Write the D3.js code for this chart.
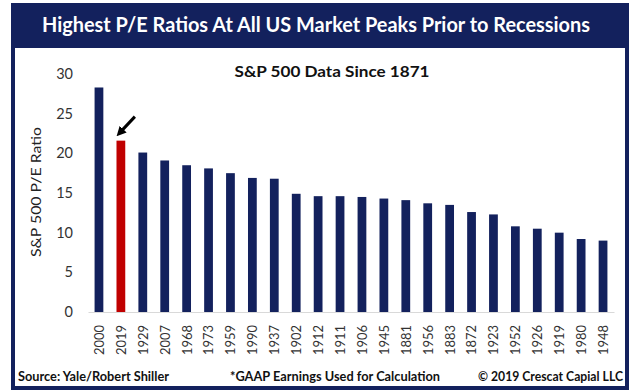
<!DOCTYPE html>
<html><head><meta charset="utf-8">
<script src="https://cdn.jsdelivr.net/npm/d3@7"></script>
<style>body{margin:0;background:#fff}svg{display:block}</style>
</head><body>
<script>
const years = ["2000","2019","1929","2007","1968","1973","1959","1990","1937","1902","1912","1911","1906","1945","1881","1956","1883","1872","1923","1952","1926","1919","1980","1948"];
const peRatios = [28.3,21.6,20.1,19.1,18.5,18.1,17.5,16.9,16.8,14.9,14.6,14.6,14.5,14.3,14.1,13.7,13.5,12.6,12.3,10.8,10.5,10.0,9.2,9.0];
const highlightYear = "2019";
const yTicks = [0,5,10,15,20,25,30];

const W=632,H=392, navy="#13215d", red="#c00000";
const svg=d3.select("body").append("svg").attr("width",W).attr("height",H);
const font="Lato, 'Open Sans', sans-serif";

svg.append("rect").attr("x",11).attr("y",3).attr("width",618).attr("height",387).attr("fill",navy);
svg.append("rect").attr("x",15).attr("y",48).attr("width",610).attr("height",338).attr("fill","#fff");

svg.append("text").attr("x",316).attr("y",32).attr("text-anchor","middle")
  .attr("font-family",font).attr("font-weight","bold").attr("font-size",20).attr("fill","#fff")
  .attr("textLength",548).attr("lengthAdjust","spacingAndGlyphs")
  .text("Highest P/E Ratios At All US Market Peaks Prior to Recessions");

svg.append("text").attr("x",332).attr("y",77).attr("text-anchor","middle")
  .attr("font-family",font).attr("font-weight","bold").attr("font-size",15).attr("fill","#111")
  .attr("textLength",195).attr("lengthAdjust","spacingAndGlyphs")
  .text("S&P 500 Data Since 1871");

const x=d3.scaleBand().domain(years).range([88,614]).paddingInner(0.6).paddingOuter(0.3);
const y=d3.scaleLinear().domain([0,30]).range([312,74]);

// y axis
const ya=svg.append("g").attr("transform","translate(80,0)")
  .call(d3.axisLeft(y).tickValues(yTicks).tickSize(0).tickPadding(7));
ya.select(".domain").remove();
ya.selectAll("text").attr("font-family",font).attr("font-size",14.5).attr("fill","#333");

svg.selectAll("rect.bar").data(years).join("rect").attr("class","bar")
  .attr("x",d=>x(d)).attr("width",x.bandwidth())
  .attr("y",(d,i)=>y(peRatios[i])).attr("height",(d,i)=>y(0)-y(peRatios[i]))
  .attr("fill",d=>d===highlightYear?red:navy);

// x axis
const xa=svg.append("g").attr("transform","translate(0,312)")
  .call(d3.axisBottom(x).tickSize(0).tickPadding(0));
xa.select(".domain").attr("stroke","#d9d9d9").attr("stroke-width",1.2);
xa.selectAll("text").attr("font-family",font).attr("font-size",14).attr("fill","#333")
  .attr("transform","rotate(-90)").attr("text-anchor","end").attr("dy","0.35em")
  .attr("x",-13).attr("y",0).attr("textLength",30).attr("lengthAdjust","spacingAndGlyphs");

svg.append("text").attr("transform","translate(41,192) rotate(-90)").attr("text-anchor","middle")
  .attr("font-family",font).attr("font-size",14).attr("fill","#222")
  .attr("textLength",130).attr("lengthAdjust","spacingAndGlyphs").text("S&P 500 P/E Ratio");

// arrow
const hx=x(highlightYear)+x.bandwidth()/2, hy=y(peRatios[years.indexOf(highlightYear)]);
svg.append("defs").append("marker").attr("id","ah").attr("viewBox","0 0 10 10").attr("refX",5).attr("refY",5)
  .attr("markerWidth",3.2).attr("markerHeight",3.2).attr("orient","auto")
  .append("path").attr("d","M0,0L10,5L0,10z").attr("fill","#000");
svg.append("line").attr("x1",hx+14).attr("y1",hy-24).attr("x2",hx-1).attr("y2",hy-8)
  .attr("stroke","#000").attr("stroke-width",3).attr("marker-end","url(#ah)");

// footer
const ft=[["Source: Yale/Robert Shiller",18,"start",151],["*GAAP Earnings Used for Calculation",230,"start",210],["© 2019 Crescat Capial LLC",623,"end",145]];
ft.forEach(f=>svg.append("text").attr("x",f[1]).attr("y",381).attr("text-anchor",f[2])
  .attr("font-family",font).attr("font-weight","bold").attr("font-size",12.5).attr("fill","#111")
  .attr("textLength",f[3]).attr("lengthAdjust","spacingAndGlyphs").text(f[0]));
</script>
</body></html>
